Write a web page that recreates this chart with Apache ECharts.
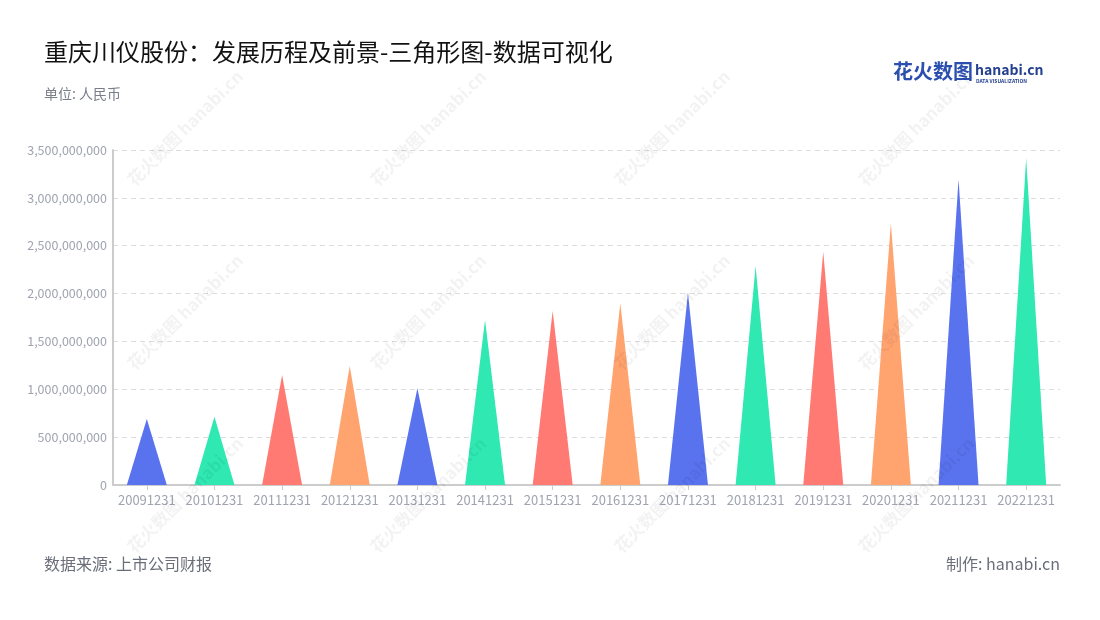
<!DOCTYPE html>
<html><head><meta charset="utf-8">
<script src="https://cdn.jsdelivr.net/npm/echarts@6/dist/echarts.min.js"></script>
<style>html,body{margin:0;padding:0;background:#fff}#c{width:1100px;height:620px}</style>
</head><body><div id="c"></div>
<script>
const categories = ['20091231','20101231','20111231','20121231','20131231','20141231','20151231','20161231','20171231','20181231','20191231','20201231','20211231','20221231'];
const values = [690e6, 714e6, 1149e6, 1243e6, 1010e6, 1724e6, 1818e6, 1898e6, 2009e6, 2288e6, 2438e6, 2734e6, 3194e6, 3413e6];
const yTicks = [0, 500e6, 1000e6, 1500e6, 2000e6, 2500e6, 3000e6, 3500e6];
const palette = ['#5972ee', '#2fe8b2', '#ff7a73', '#ffa36f'];

const FONT = '"Noto Sans CJK SC", "Noto Sans", sans-serif';
const chart = echarts.init(document.getElementById('c'), null, {renderer: 'canvas'});

const wm = [];
const wmCols = [185, 428, 672, 916];
const wmRows = [128, 312, 495];
wmRows.forEach(y => wmCols.forEach(x => {
  wm.push({
    type: 'text', x: x, y: y, rotation: Math.PI / 4, z: 100, silent: true,
    style: {text: '花火数图 hanabi.cn', fontSize: 17, fontWeight: 'bold', fontFamily: FONT,
      fill: 'rgba(0,0,0,0.05)', align: 'center', verticalAlign: 'middle'}
  });
}));

chart.setOption({
  backgroundColor: '#fff',
  animation: false,
  grid: {left: 113, right: 40, top: 150, bottom: 135, containLabel: false},
  xAxis: {
    type: 'category', data: categories,
    axisLine: {lineStyle: {color: '#cccccc', width: 2}},
    axisTick: {show: true, alignWithLabel: true, lineStyle: {color: '#cccccc'}},
    axisLabel: {color: '#a0a4b0', fontSize: 13, fontFamily: FONT, margin: 9, interval: 0}
  },
  yAxis: {
    type: 'value', min: 0, max: yTicks[yTicks.length - 1], interval: yTicks[1] - yTicks[0],
    axisLine: {show: true, lineStyle: {color: '#cccccc', width: 2}},
    axisTick: {show: false},
    splitLine: {lineStyle: {color: '#dddddd', type: [5, 4]}},
    axisLabel: {color: '#a0a4b0', fontSize: 12.5, fontFamily: FONT, margin: 6,
      formatter: v => v.toLocaleString('en-US')}
  },
  series: [{
    type: 'pictorialBar',
    symbol: 'triangle',
    symbolSize: [40, '100%'],
    barCategoryGap: '0%',
    data: values.map((v, i) => ({value: v, itemStyle: {color: palette[i % palette.length]}})),
    z: 10
  }],
  graphic: [
    {type: 'text', left: 44, top: 40, style: {text: '重庆川仪股份：发展历程及前景-三角形图-数据可视化', fontSize: 24, fontFamily: FONT, fill: '#111'}},
    {type: 'text', left: 44, top: 87, style: {text: '单位: 人民币', fontSize: 14, fontFamily: FONT, fill: '#7a7e8a'}},
    {type: 'text', left: 44, top: 556, style: {text: '数据来源: 上市公司财报', fontSize: 16, fontFamily: FONT, fill: '#6a6e7a'}},
    {type: 'text', right: 40, top: 556, style: {text: '制作: hanabi.cn', fontSize: 16, fontFamily: FONT, fill: '#6a6e7a'}},
    {type: 'text', left: 893, top: 61, style: {text: '花火数图', fontSize: 20, fontWeight: 'bold', fontFamily: FONT, fill: '#2b4fae'}},
    {type: 'text', left: 975, top: 63, style: {text: 'hanabi.cn', fontSize: 14, fontWeight: 'bold', fontFamily: FONT, fill: '#24418f'}},
    {type: 'text', left: 976, top: 79, style: {text: 'DATA VISUALIZATION', fontSize: 5, fontWeight: 'bold', fontFamily: FONT, fill: '#24418f'}}
  ].concat(wm)
});
</script>
</body></html>
